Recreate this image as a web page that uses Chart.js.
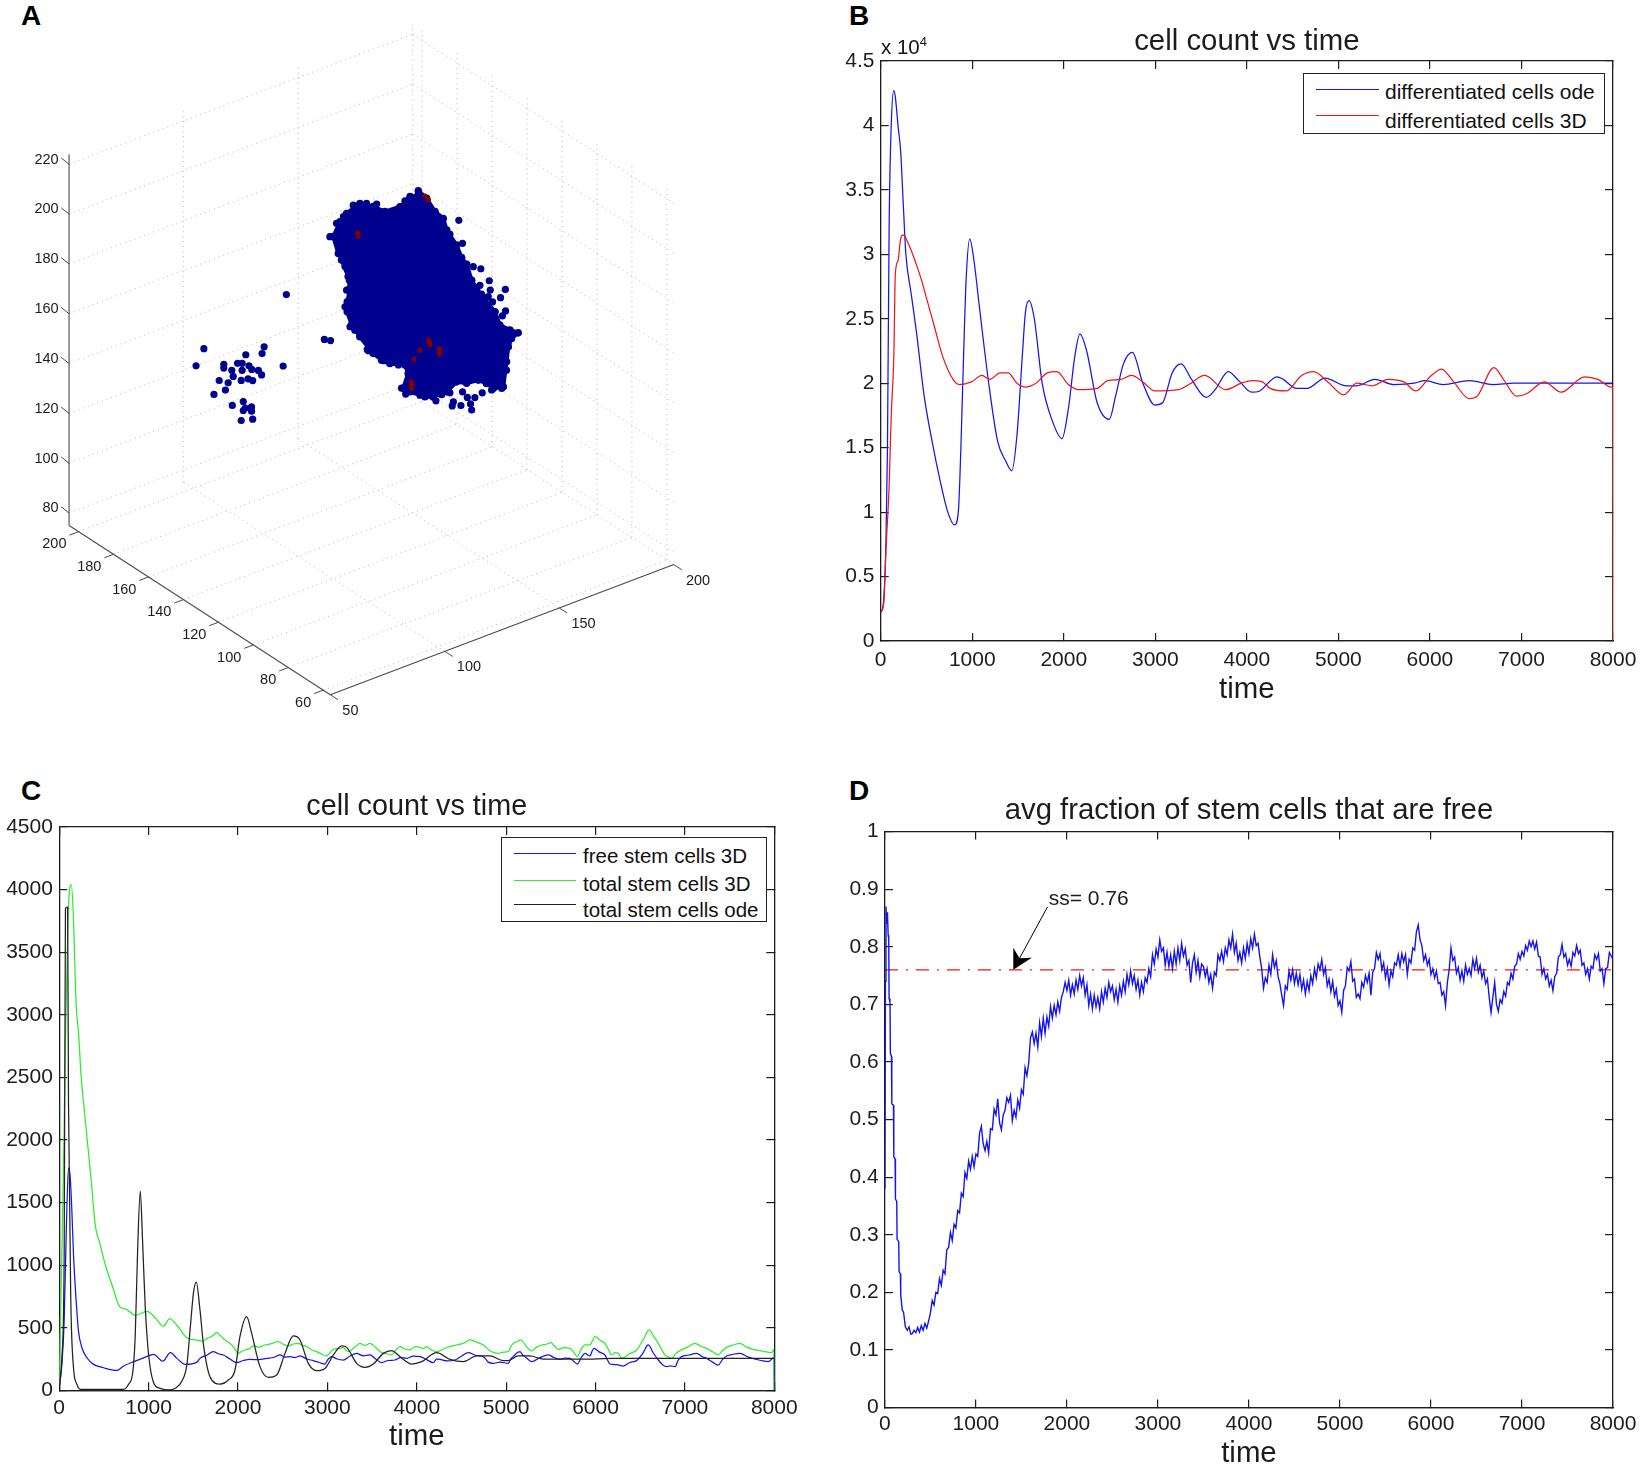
<!DOCTYPE html>
<html>
<head>
<meta charset="utf-8">
<script src="https://cdn.jsdelivr.net/npm/chart.js@4"></script>
<style>
  html, body { margin: 0; padding: 0; background: #fff; }
  #page { position: relative; width: 1644px; height: 1469px; overflow: hidden; font-family: "Liberation Sans", Arial, sans-serif; color: #111; }
  canvas { position: absolute; }
  .letter { position: absolute; font-weight: bold; font-size: 28px; line-height: 28px; color: #000; }
  .legend { position: absolute; background: #fff; border: 1.3px solid #222; box-sizing: border-box; font-size: 21px; }
  .legend .swatch { position: absolute; height: 1.3px; }
  .legend .label { position: absolute; line-height: 24px; white-space: nowrap; }
  #exp { position: absolute; left: 881px; top: 35px; font-size: 20.5px; line-height: 24px; }
  #exp sup { font-size: 13px; line-height: 0; }
</style>
</head>
<body>
<div id="page">
  <div class="letter" style="left:21px;top:2px">A</div>
  <div class="letter" style="left:849px;top:2px">B</div>
  <div class="letter" style="left:21px;top:777px">C</div>
  <div class="letter" style="left:849px;top:777px">D</div>
  <canvas id="panelA" width="822" height="735" style="left:0;top:0"></canvas>
  <canvas id="panelB" width="822" height="735" style="left:822px;top:0"></canvas>
  <canvas id="panelC" width="822" height="719" style="left:0;top:750px"></canvas>
  <canvas id="panelD" width="822" height="719" style="left:822px;top:750px"></canvas>
  <div id="exp">x 10<sup>4</sup></div>
</div>

<script>
// panel A: 3D scatter, axis ticks
const ticksX3d = [50, 100, 150, 200];
const ticksY3d = [60, 80, 100, 120, 140, 160, 180, 200];
const ticksZ3d = [80, 100, 120, 140, 160, 180, 200, 220];

// main blob outline, y taken as one depth because the picture only gives a projection
const cloudDepth = 130;
const cloudEdgeX = [144.9,148.5,152.2,155.8,157.3,161.6,163.8,166.0,168.2,170.4,174.0,178.4,180.5,184.9,188.5,185.6,184.2,183.4,182.0,177.6,174.7,171.1,166.0,161.6,157.3,151.4,147.8,141.3,138.3,140.5,139.1,132.5,128.9,125.2,119.4,115.8,113.9,113.9,115.1,114.3,111.4,110.0,107.8,110.7,113.6,119.4,125.2,130.3,136.9,141.3];
const cloudEdgeZ = [210.6,206.3,199.7,195.7,190.5,183.0,177.2,173.7,166.6,162.5,156.6,150.4,144.3,140.8,138.4,137.1,134.3,128.6,119.0,119.9,122.9,125.5,126.0,128.1,125.6,125.6,126.9,131.2,133.6,138.8,142.7,145.6,148.2,152.2,160.9,166.9,172.8,176.8,181.8,186.8,194.5,197.6,205.1,210.1,212.4,214.4,211.1,207.3,207.0,209.5];
// loose dots round the blob
const looseX = [162.6,158.7,164.2,168.9,172.2,175.9,182.9,171.8,172.5,176.3,175.4,180.8,177.3,183.0,181.6,103.9,106.6,152.6,155.1,158.7,164.2,166.3,169.6,160.2,159.7,163.5,167.7,168.2,172.8,139.4,137.6,122.6,129.9,136.2,
  106.3,109.2,112.2,116.5,122.3,126.7,133.2,139.1,112.9,114.8,113.6,112.9,115.1,117.2,123.1,184.9,183.4,181.3,176.9,141.3,145.6];
const looseZ = [192.6,188.4,182.8,171.8,169.8,163.7,157.8,163.3,159.5,159.8,157.5,155.2,154.7,149.1,147.6,165.2,163.8,123.6,125.2,124.7,123.2,120.2,119.0,120.6,119.1,117.9,117.1,114.5,119.8,130.9,133.9,154.7,147.6,143.7,
  205.6,210.0,211.6,214.7,213.4,211.6,206.3,208.6,191.3,185.2,181.6,175.2,166.4,164.3,154.0,138.1,125.2,118.6,119.5,134.5,128.3];
// small cluster on the left
const clusterX = [87.3,51.3,47.9,77.6,76.7,69.6,85.9,60,60,66,68,71,63.5,68,72.2,75.1,76.5,64.1,58,61.9,67.6,70.6,72.6,60.7,55.7,63.7,68.5,69.4,68.5,72.1,72.1,67.6,72.6];
const clusterZ = [189.0,179.8,174.1,171.4,169.0,171.0,160.8,170.5,169.0,168.8,168.1,166.1,166.9,165.3,164.2,162.8,160.5,164.2,164.7,162.4,161.4,161.0,159.6,159.9,159.9,152.7,152.6,149.7,149.0,149.2,147.5,145.3,144.1];
// dark red cells showing through
const redX = [118.3,118.7,147.8,149.3,149.5,149.8,150,154.1,154.1,154.1,145.6,143,142,142,142];
const redZ = [203.0,201.6,207.5,205.4,149.1,148.0,146.9,144.1,143.0,141.8,146.4,143.6,134.9,133.6,132.3];

// shared time axis
const timeTicks = [0, 1000, 2000, 3000, 4000, 5000, 6000, 7000, 8000];

// panel B, counts in units of 10^4
const yTicksB = [0, 0.5, 1, 1.5, 2, 2.5, 3, 3.5, 4, 4.5];
const odeTimeB = [0,30,57,74,92,115,143,160,189,218,246,275,332,390,475,561,647,733,807,848,876,905,933,973,1019,1077,1180,1277,1363,1432,1489,1546,1581,1621,1678,1764,1879,1981,2050,2119,2176,2250,2364,2497,2566,2652,2749,2864,2995,3081,3184,3282,3396,3556,3654,3797,3911,4054,4140,4329,4398,4541,4656,4856,5086,5200,5400,5600,5830,5944,6145,6431,6689,6918,8000];
const odeCountB = [0.22,0.3,0.75,1.5,3.2,4.0,4.27,4.22,4.0,3.8,3.4,3.0,2.7,2.4,1.9,1.55,1.25,1.0,0.9,1.0,1.5,2.2,2.8,3.12,2.95,2.6,2.0,1.55,1.4,1.32,1.6,2.2,2.55,2.64,2.5,2.0,1.7,1.57,1.8,2.2,2.38,2.25,1.85,1.72,1.9,2.15,2.24,2.0,1.83,1.85,2.08,2.15,2.03,1.89,1.95,2.09,2.02,1.93,1.94,2.05,2.03,1.96,1.96,2.04,1.98,1.98,2.03,1.99,2.0,2.02,1.99,2.02,1.99,2.0,2.0];
const simTimeB = [0,34,57,92,115,143,160,189,218,246,304,390,450,504,590,676,790,859,991,1105,1191,1306,1392,1489,1581,1695,1821,1924,2050,2165,2365,2480,2623,2738,2864,2995,3253,3367,3539,3768,3940,4054,4169,4255,4427,4599,4730,4885,5057,5200,5372,5543,5716,5846,6001,6127,6259,6431,6517,6700,6803,6946,7061,7250,7433,7690,7835,7980,7998,8000];
const simCountB = [0.22,0.3,0.7,1.2,1.75,2.2,2.85,2.95,3.12,3.15,3.08,2.92,2.79,2.65,2.43,2.21,2.03,1.99,2.01,2.06,2.03,2.08,2.08,2.0,1.97,2.0,2.08,2.09,1.99,1.95,1.96,2.02,2.03,2.06,2.01,1.94,1.95,1.99,2.06,1.95,2.0,2.02,2.01,1.96,1.94,2.06,2.09,2.01,1.91,2.0,1.98,2.03,2.01,1.94,2.05,2.11,2.01,1.88,1.9,2.12,2.03,1.9,1.92,2.01,1.93,2.05,2.03,1.97,1.97,0];

// panel C
const yTicksC = [0, 500, 1000, 1500, 2000, 2500, 3000, 3500, 4000, 4500];
const freeTimeC = [0,4,30,56,78,104,123,142,160,190,216,254,310,384,496,646,720,851,963,1056,1160,1243,1317,1410,1541,1575,1650,1724,1780,1836,1910,1985,2060,2134,2230,2321,2400,2470,2525,2582,2640,2694,2770,2843,2910,2973,3010,3048,3110,3178,3250,3328,3400,3477,3540,3607,3680,3756,3820,3887,3960,4036,4110,4185,4222,4260,4340,4427,4500,4577,4660,4745,4800,4857,4931,5024,5050,5080,5115,5155,5185,5211,5250,5285,5380,5472,5535,5602,5660,5714,5755,5796,5840,5882,5938,5960,5982,6045,6105,6135,6161,6235,6311,6385,6460,6525,6590,6645,6702,6750,6795,6840,6889,6925,6963,7045,7131,7190,7243,7310,7373,7420,7467,7540,7616,7710,7802,7870,7933,7996,8000];
const freeCountC = [30,48,207,565,1241,1777,1706,1427,1082,711,472,340,260,207,180,159,194,233,265,286,233,300,255,207,225,255,280,309,292,282,250,221,238,247,245,255,262,282,265,269,262,274,250,237,222,210,250,269,250,242,272,295,275,282,250,221,238,242,262,255,272,269,245,221,250,247,235,242,272,301,280,269,225,215,225,215,250,269,295,309,282,269,245,229,262,282,262,247,258,255,232,210,262,295,274,310,335,305,282,240,210,205,194,222,237,290,362,300,242,205,189,195,189,240,269,282,295,270,255,225,202,245,274,288,295,265,247,235,229,261,0];
const totalTimeC = [0,29,53,70,100,135,158,188,217,246,272,366,403,459,515,590,675,757,851,981,1075,1168,1235,1317,1429,1500,1560,1610,1650,1700,1735,1761,1800,1830,1855,1900,1948,1975,2004,2040,2078,2125,2172,2235,2302,2375,2451,2505,2563,2620,2675,2720,2768,2825,2880,2935,2992,3030,3067,3120,3178,3205,3234,3300,3365,3420,3477,3545,3607,3665,3719,3765,3812,3870,3924,3980,4036,4075,4111,4165,4222,4330,4446,4520,4595,4670,4745,4830,4912,4970,5024,5050,5080,5120,5162,5225,5285,5340,5397,5450,5501,5545,5583,5650,5714,5755,5796,5840,5882,5938,5965,5994,6050,6105,6145,6180,6220,6255,6292,6375,6460,6530,6601,6650,6702,6740,6777,6815,6851,6900,6945,7030,7113,7180,7243,7310,7373,7420,7467,7540,7616,7690,7765,7870,7970,7996,8000];
const totalCountC = [60,1059,2000,2800,3800,4040,3800,3100,2850,2500,2302,1613,1321,1162,1003,843,671,645,599,631,578,512,573,520,419,405,398,392,415,428,446,463,440,418,402,380,349,318,295,310,322,332,354,344,362,372,389,368,354,370,375,358,349,322,309,290,274,300,327,332,343,322,309,340,375,358,375,338,301,292,282,322,349,330,322,348,343,332,349,322,309,340,362,375,402,385,362,310,295,305,309,345,375,388,402,352,314,345,362,368,381,350,327,340,335,305,269,330,362,362,395,429,400,375,325,282,300,295,255,290,322,400,482,430,375,325,282,268,255,295,317,345,375,350,335,308,282,318,343,362,375,345,327,312,301,327,0];
const odeTimeC = [0,4,30,56,70,94,104,130,160,198,235,720,776,825,851,877,907,933,963,1000,1056,1130,1224,1299,1373,1429,1466,1504,1534,1575,1612,1687,1799,1892,1967,2022,2097,2153,2246,2339,2433,2526,2619,2694,2787,2880,2973,3067,3160,3216,3328,3421,3514,3626,3719,3812,3943,4055,4222,4372,4521,4670,4819,4968,5024,5136,5266,5416,5975,6199,6702,8000];
const odeCountC = [30,48,260,1109,3850,3860,2302,710,180,48,8,8,48,154,445,1109,1592,1188,658,286,61,16,3,16,74,207,499,790,865,642,375,109,50,82,162,429,589,455,189,103,122,295,434,402,215,157,175,282,354,343,215,183,210,295,317,269,210,229,301,247,229,274,274,237,237,274,274,250,250,255,255,255];

// panel D
const yTicksD = [0, 0.1, 0.2, 0.3, 0.4, 0.5, 0.6, 0.7, 0.8, 0.9, 1];
const freeTimeD = [
  0,6,12,20,28,36,42,46,56,60,72,76,94,98,112,116,130,134,152,156,170,174,190,205,225,245,265,285,
  300,320,340,360,380,400,420,440,460,480,
  500,520,540,560,580,600,620,640,660,680,
  700,720,740,760,780,800,820,840,860,880,
  900,920,940,960,980,1000,1020,1040,1060,1080,
  1100,1120,1140,1160,1180,1200,1220,1240,1260,1280,
  1300,1320,1340,1360,1380,1400,1420,1440,1460,1480,
  1500,1520,1540,1560,1580,1600,1620,1640,1660,1680,
  1700,1720,1740,1760,1780,1800,1820,1840,1860,1880,
  1900,1920,1940,1960,1980,2000,2020,2040,2060,2080,
  2100,2120,2140,2160,2180,2200,2220,2240,2260,2280,
  2300,2320,2340,2360,2380,2400,2420,2440,2460,2480,
  2500,2520,2540,2560,2580,2600,2620,2640,2660,2680,
  2700,2720,2740,2760,2780,2800,2820,2840,2860,2880,
  2900,2920,2940,2960,2980,3000,3020,3040,3060,3080,
  3100,3120,3140,3160,3180,3200,3220,3240,3260,3280,
  3300,3320,3340,3360,3380,3400,3420,3440,3460,3480,
  3500,3520,3540,3560,3580,3600,3620,3640,3660,3680,
  3700,3720,3740,3760,3780,3800,3820,3840,3860,3880,
  3900,3920,3940,3960,3980,4000,4020,4040,4060,4080,
  4100,4120,4140,4160,4180,4200,4220,4240,4260,4280,
  4300,4320,4340,4360,4380,4400,4420,4440,4460,4480,
  4500,4520,4540,4560,4580,4600,4620,4640,4660,4680,
  4700,4720,4740,4760,4780,4800,4820,4840,4860,4880,
  4900,4920,4940,4960,4980,5000,5020,5040,5060,5080,
  5100,5120,5140,5160,5180,5200,5220,5240,5260,5280,
  5300,5320,5340,5360,5380,5400,5420,5440,5460,5480,
  5500,5520,5540,5560,5580,5600,5620,5640,5660,5680,
  5700,5720,5740,5760,5780,5800,5820,5840,5860,5880,
  5900,5920,5940,5960,5980,6000,6020,6040,6060,6080,
  6100,6120,6140,6160,6180,6200,6220,6240,6260,6280,
  6300,6320,6340,6360,6380,6400,6420,6440,6460,6480,
  6500,6520,6540,6560,6580,6600,6620,6640,6660,6680,
  6700,6720,6740,6760,6780,6800,6820,6840,6860,6880,
  6900,6920,6940,6960,6980,7000,7020,7040,7060,7080,
  7100,7120,7140,7160,7180,7200,7220,7240,7260,7280,
  7300,7320,7340,7360,7380,7400,7420,7440,7460,7480,
  7500,7520,7540,7560,7580,7600,7620,7640,7660,7680,
  7700,7720,7740,7760,7780,7800,7820,7840,7860,7880,
  7900,7920,7940,7960,7980,8000
];
const freeFracD = [
  .38,.74,.87,.84,.86,.82,.815,.71,.705,.615,.61,.527,.525,.435,.432,.362,.358,.292,.288,.236,.232,.195,.17,.165,.14,.134,.14,.127,
  .128,.134,.130,.139,.131,.142,.134,.146,.138,.150,
  .164,.186,.178,.200,.198,.224,.212,.238,.232,.274,
  .278,.304,.290,.318,.312,.342,.338,.372,.366,.408,
  .398,.428,.414,.436,.418,.440,.436,.476,.488,.458,
  .446,.462,.442,.484,.482,.518,.508,.536,.494,.482,
  .508,.516,.538,.530,.542,.498,.516,.504,.534,.520,
  .552,.544,.590,.576,.598,.642,.652,.632,.650,.626,
  .668,.644,.676,.650,.678,.662,.696,.676,.698,.682,
  .704,.688,.712,.722,.738,.724,.742,.716,.734,.718,
  .742,.726,.750,.732,.746,.716,.734,.698,.718,.692,
  .716,.696,.712,.692,.722,.704,.728,.712,.738,.722,
  .732,.708,.726,.704,.732,.716,.740,.722,.752,.734,
  .758,.736,.750,.726,.742,.716,.738,.722,.746,.738,
  .762,.748,.786,.770,.796,.782,.812,.792,.798,.768,
  .790,.766,.786,.762,.792,.770,.798,.776,.806,.784,
  .796,.768,.776,.738,.772,.786,.756,.776,.748,.770,
  .766,.748,.762,.738,.752,.728,.756,.750,.786,.776,
  .792,.774,.798,.786,.812,.798,.822,.790,.806,.776,
  .790,.772,.798,.780,.806,.788,.814,.798,.822,.802,
  .806,.782,.762,.728,.746,.738,.768,.752,.786,.764,
  .776,.748,.736,.716,.698,.732,.726,.758,.742,.760,
  .736,.754,.734,.752,.726,.742,.718,.740,.724,.750,
  .736,.762,.746,.770,.760,.778,.752,.764,.732,.744,
  .722,.740,.714,.726,.698,.706,.686,.724,.732,.764,
  .758,.774,.740,.744,.712,.718,.710,.738,.730,.750,
  .738,.754,.716,.756,.762,.790,.778,.788,.760,.772,
  .746,.762,.734,.758,.748,.772,.768,.786,.766,.788,
  .774,.786,.752,.778,.772,.798,.794,.826,.838,.812,
  .802,.776,.786,.768,.778,.752,.762,.746,.758,.736,
  .738,.716,.722,.698,.738,.760,.798,.776,.782,.754,
  .764,.742,.758,.740,.768,.752,.762,.750,.778,.762,
  .780,.756,.768,.746,.758,.736,.744,.712,.686,.712,
  .738,.700,.688,.708,.702,.722,.714,.738,.734,.754,
  .744,.766,.770,.788,.778,.792,.784,.802,.794,.810,
  .800,.810,.796,.808,.784,.782,.752,.762,.744,.752,
  .732,.742,.724,.748,.754,.782,.786,.804,.782,.788,
  .768,.778,.766,.790,.784,.802,.788,.794,.768,.772,
  .752,.762,.744,.766,.762,.786,.778,.788,.758,.762,
  .736,.762,.764,.790,.784,.778
];
const steadyState = 0.76;
const ssLabel = 'ss= 0.76';

const FONT = '"Liberation Sans", Arial, sans-serif';
const INK = '#1c1c1c';
const BLUE = '#1414ee';
const RED = '#f01616';
const GREEN = '#2cee2c';

function pairs(xs, ys) {
  return xs.map((x, i) => ({ x: x, y: ys[i] }));
}

function curve(xs, ys, color, order) {
  return { data: pairs(xs, ys), showLine: true, borderColor: color, borderWidth: 1.25, pointRadius: 0, order: order, cubicInterpolationMode: 'monotone' };
}

// matlab style box: ticks point inward on all four sides, labels on two
function boxAxis(min, max, tickValues, extra) {
  return Object.assign({
    type: 'linear',
    min: min,
    max: max,
    afterBuildTicks: (s) => { s.ticks = tickValues.map((v) => ({ value: v })); },
    border: { display: true, color: INK, width: 1.3 },
    grid: { drawOnChartArea: false, drawTicks: true, tickLength: -8, color: INK, lineWidth: 1.2 },
    ticks: { autoSkip: false, maxRotation: 0, color: INK, font: { family: FONT, size: 21 }, callback: (v) => String(v) },
  }, extra);
}

function timePanel(id, yMax, yTicks, datasets, g, plugins) {
  // labels sit on x, the inward tick marks on xMarks: a big tick padding would push the plot's right edge in
  const xAxis = boxAxis(0, 8000, timeTicks, {
    position: 'bottom',
    afterFit: (s) => { s.height = g.axisH; },
    title: { display: true, text: 'time', color: INK, font: { family: FONT, size: 29.4 }, padding: { top: 0, bottom: g.timePad } },
  });
  xAxis.ticks.padding = g.tickPad;
  xAxis.grid = { drawOnChartArea: false, drawTicks: false };
  const xMarks = boxAxis(0, 8000, timeTicks, { position: 'bottom', weight: -1, afterFit: (s) => { s.height = 0; } });
  xMarks.ticks = { display: false };
  const yAxis = boxAxis(0, yMax, yTicks, { position: 'left', afterFit: (s) => { s.width = g.left; } });
  yAxis.ticks.padding = 14.3;
  const xTop = boxAxis(0, 8000, timeTicks, { position: 'top', afterFit: (s) => { s.height = 0; } });
  xTop.ticks = { display: false };
  const yRight = boxAxis(0, yMax, yTicks, { position: 'right', afterFit: (s) => { s.width = 0; } });
  yRight.ticks = { display: false };
  return new Chart(document.getElementById(id), {
    type: 'scatter',
    data: { datasets: datasets },
    options: {
      responsive: false,
      animation: false,
      layout: { autoPadding: false, padding: { right: g.right } },
      plugins: {
        legend: { display: false },
        tooltip: { enabled: false },
        title: {
          display: true,
          fullSize: false,
          text: g.title,
          color: INK,
          font: { family: FONT, size: g.titleSize, weight: 'normal' },
          padding: { top: g.titleTop, bottom: g.titleBottom },
        },
      },
      scales: { x: xAxis, y: yAxis, xMarks: xMarks, x2: xTop, y2: yRight },
    },
    plugins: plugins || [],
  });
}

function addLegend(rows, box) {
  const page = document.getElementById('page');
  const el = document.createElement('div');
  el.className = 'legend';
  el.style.left = box.left + 'px';
  el.style.top = box.top + 'px';
  el.style.width = box.width + 'px';
  el.style.height = box.height + 'px';
  el.style.fontSize = box.fontSize + 'px';
  rows.forEach((r, i) => {
    const sw = document.createElement('div');
    sw.className = 'swatch';
    sw.style.left = box.swatchLeft + 'px';
    sw.style.width = box.swatchWidth + 'px';
    sw.style.top = box.lineY[i] + 'px';
    sw.style.background = r.color;
    const lb = document.createElement('div');
    lb.className = 'label';
    lb.style.left = box.textLeft + 'px';
    lb.style.top = box.textY[i] - 12 + 'px';
    lb.textContent = r.text;
    el.appendChild(sw);
    el.appendChild(lb);
  });
  page.appendChild(el);
}

// ---- panel A ----
const xMin3d = 50, xMax3d = 200, yMin3d = 56, yMax3d = 205.4, zMin3d = 75, zMax3d = 224;

// orthographic view of the 3D box onto the flat scales of the chart
function project(x, y, z) {
  return {
    x: 630 + (x - xMin3d) * 4.37 - (y - yMin3d) * 3.335,
    y: 1482 - (x - xMin3d) * 1.85 - (y - yMin3d) * 2.415 - (z - zMin3d) * 5.315,
  };
}

function segment(a, b, color, width, dash) {
  return { data: [project(a[0], a[1], a[2]), project(b[0], b[1], b[2])], showLine: true, borderColor: color, borderWidth: width, borderDash: dash, pointRadius: 0, order: 10 };
}

const gridSets = [];
const DOT = '#b4b4b4';
ticksX3d.slice(1).forEach((x) => {
  gridSets.push(segment([x, yMin3d, zMin3d], [x, yMax3d, zMin3d], DOT, 1, [1, 4]));
  gridSets.push(segment([x, yMax3d, zMin3d], [x, yMax3d, zMax3d], DOT, 1, [1, 4]));
});
ticksY3d.forEach((y) => {
  gridSets.push(segment([xMin3d, y, zMin3d], [xMax3d, y, zMin3d], DOT, 1, [1, 4]));
  gridSets.push(segment([xMax3d, y, zMin3d], [xMax3d, y, zMax3d], DOT, 1, [1, 4]));
});
ticksZ3d.forEach((z) => {
  gridSets.push(segment([xMin3d, yMax3d, z], [xMax3d, yMax3d, z], DOT, 1, [1, 4]));
  gridSets.push(segment([xMax3d, yMax3d, z], [xMax3d, yMin3d, z], DOT, 1, [1, 4]));
});

const AXIS3D = '#4a4a4a';
const axisSets = [
  segment([xMin3d, yMax3d, zMin3d], [xMin3d, yMax3d, zMax3d], AXIS3D, 1.1, []),
  segment([xMin3d, yMax3d, zMin3d], [xMin3d, yMin3d, zMin3d], AXIS3D, 1.1, []),
  segment([xMin3d, yMin3d, zMin3d], [xMax3d, yMin3d, zMin3d], AXIS3D, 1.1, []),
];
ticksZ3d.forEach((z) => axisSets.push(segment([xMin3d, yMax3d, z], [xMin3d, yMax3d + 4.5, z + 0.5], AXIS3D, 1, [])));
ticksY3d.forEach((y) => axisSets.push(segment([xMin3d, y, zMin3d], [xMin3d - 4, y, zMin3d], AXIS3D, 1, [])));
ticksX3d.forEach((x) => axisSets.push(segment([x, yMin3d, zMin3d], [x, yMin3d - 4.5, zMin3d], AXIS3D, 1, [])));

function cloudPoints(xs, zs) {
  return xs.map((x, i) => project(x, cloudDepth, zs[i]));
}

const NAVY = '#00008f';
const DARKRED = '#800000';

const tickText3d = {
  id: 'tickText3d',
  afterDraw(chart) {
    const ctx = chart.ctx;
    const sx = chart.scales.x, sy = chart.scales.y;
    ctx.save();
    ctx.font = '14.5px ' + FONT;
    ctx.fillStyle = INK;
    ctx.textBaseline = 'middle';
    ctx.textAlign = 'right';
    ticksZ3d.forEach((z) => {
      const p = project(xMin3d, yMax3d, z);
      ctx.fillText(String(z), sx.getPixelForValue(p.x - 20), sy.getPixelForValue(p.y - 10));
    });
    ticksY3d.forEach((y) => {
      const p = project(xMin3d, y, zMin3d);
      ctx.fillText(String(y), sx.getPixelForValue(p.x - 23), sy.getPixelForValue(p.y + 27));
    });
    ctx.textAlign = 'left';
    ticksX3d.forEach((x) => {
      const p = project(x, yMin3d, zMin3d);
      ctx.fillText(String(x), sx.getPixelForValue(p.x + 23), sy.getPixelForValue(p.y + 34));
    });
    ctx.restore();
  },
};

new Chart(document.getElementById('panelA'), {
  type: 'scatter',
  data: {
    datasets: [
      { data: cloudPoints(redX, redZ), backgroundColor: DARKRED, pointRadius: 2.6, pointBorderWidth: 0, order: 1 },
      { data: cloudPoints(cloudEdgeX, cloudEdgeZ), showLine: true, fill: 'shape', borderColor: NAVY, backgroundColor: NAVY, pointBackgroundColor: NAVY, pointRadius: 3.8, pointBorderWidth: 0, borderWidth: 4, order: 2 },
      { data: cloudPoints(looseX, looseZ), backgroundColor: NAVY, pointRadius: 3.6, pointBorderWidth: 0, order: 2 },
      { data: cloudPoints(clusterX, clusterZ), backgroundColor: NAVY, pointRadius: 3.6, pointBorderWidth: 0, order: 2 },
    ].concat(axisSets, gridSets),
  },
  options: {
    responsive: false,
    animation: false,
    layout: { autoPadding: false, padding: 0 },
    plugins: { legend: { display: false }, tooltip: { enabled: false } },
    scales: {
      x: { type: 'linear', min: 0, max: 1568, display: false },
      y: { type: 'linear', min: 0, max: 1568, reverse: true, display: false },
    },
  },
  plugins: [tickText3d],
});

// ---- panel B ----
timePanel('panelB', 4.5, yTicksB, [
  curve(odeTimeB, odeCountB, BLUE, 2),
  curve(simTimeB, simCountB, RED, 1),
], { left: 58.7, right: 31, axisH: 94, tickPad: 6.5, timePad: 27.8, title: 'cell count vs time', titleSize: 29.4, titleTop: 24, titleBottom: 1.7 });

addLegend([
  { text: 'differentiated cells ode', color: BLUE },
  { text: 'differentiated cells 3D', color: RED },
], { left: 1303, top: 73, width: 302, height: 61, fontSize: 21, swatchLeft: 12, swatchWidth: 63, lineY: [15, 41], textLeft: 81, textY: [18, 47] });

// ---- panel C ----
timePanel('panelC', 4500, yTicksC, [
  curve(freeTimeC, freeCountC, BLUE, 3),
  curve(totalTimeC, totalCountC, GREEN, 2),
  curve(odeTimeC, odeCountC, '#222222', 1),
], { left: 59.2, right: 47.7, axisH: 78.7, tickPad: 5.5, timePad: 14.6, title: 'cell count vs time', titleSize: 28.8, titleTop: 39.4, titleBottom: 3 });

addLegend([
  { text: 'free stem cells 3D', color: BLUE },
  { text: 'total stem cells 3D', color: GREEN },
  { text: 'total stem cells ode', color: '#222222' },
], { left: 501, top: 837, width: 266, height: 85, fontSize: 20.5, swatchLeft: 12, swatchWidth: 62, lineY: [15, 42, 66], textLeft: 81, textY: [18, 46, 72] });

// ---- panel D ----
const ssArrow = {
  id: 'ssArrow',
  afterDatasetsDraw(chart) {
    const ctx = chart.ctx;
    const sx = chart.scales.x, sy = chart.scales.y;
    const tail = { x: sx.getPixelForValue(1786), y: sy.getPixelForValue(0.869) };
    const tip = { x: sx.getPixelForValue(1411), y: sy.getPixelForValue(steadyState) };
    const a = Math.atan2(tip.y - tail.y, tip.x - tail.x);
    ctx.save();
    ctx.strokeStyle = '#000';
    ctx.fillStyle = '#000';
    ctx.lineWidth = 1;
    ctx.beginPath();
    ctx.moveTo(tail.x, tail.y);
    ctx.lineTo(tip.x - Math.cos(a) * 12, tip.y - Math.sin(a) * 12);
    ctx.stroke();
    ctx.beginPath();
    ctx.moveTo(tip.x, tip.y);
    ctx.lineTo(tip.x - Math.cos(a - 0.5) * 22, tip.y - Math.sin(a - 0.5) * 22);
    ctx.lineTo(tip.x - Math.cos(a) * 13, tip.y - Math.sin(a) * 13);
    ctx.lineTo(tip.x - Math.cos(a + 0.5) * 22, tip.y - Math.sin(a + 0.5) * 22);
    ctx.closePath();
    ctx.fill();
    ctx.font = '21px ' + FONT;
    ctx.fillStyle = INK;
    ctx.textAlign = 'left';
    ctx.textBaseline = 'middle';
    ctx.fillText(ssLabel, sx.getPixelForValue(1800), sy.getPixelForValue(0.882));
    ctx.restore();
  },
};

const ssLine = { data: [{ x: 0, y: steadyState }, { x: 8000, y: steadyState }], showLine: true, borderColor: RED, borderWidth: 1.2, borderDash: [13, 8, 2, 8], pointRadius: 0, order: 2 };

const freeCurveD = curve(freeTimeD, freeFracD, BLUE, 1);
freeCurveD.cubicInterpolationMode = 'default';
freeCurveD.borderWidth = 1.4;

timePanel('panelD', 1, yTicksD, [
  freeCurveD,
  ssLine,
], { left: 62.9, right: 31, axisH: 61.5, tickPad: 4.5, timePad: -3, title: 'avg fraction of stem cells that are free', titleSize: 29.3, titleTop: 43, titleBottom: 3.4 }, [ssArrow]);
</script>
</body>
</html>
